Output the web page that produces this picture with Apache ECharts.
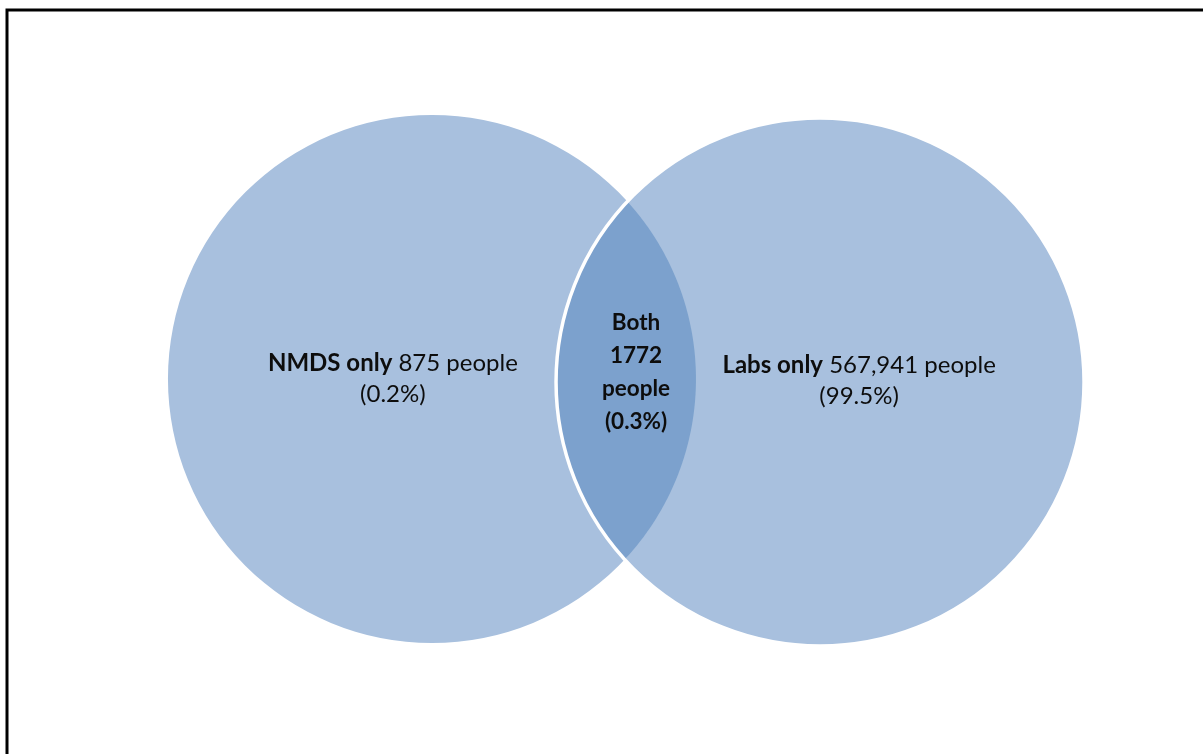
<!DOCTYPE html>
<html>
<head>
<meta charset="utf-8">
<title>NMDS and laboratory records overlap</title>
<script src="https://cdn.jsdelivr.net/npm/echarts@6/dist/echarts.min.js"></script>
<style>
  html, body { margin: 0; padding: 0; background: #ffffff; }
  #chart { width: 1203px; height: 754px; }
</style>
</head>
<body>
<div id="chart"></div>
<script>
// Regions of the Venn diagram: left-only, overlap, right-only
const regionNames = ['NMDS only', 'Both', 'Labs only'];
const peopleCounts = [875, 1772, 567941];
const countText = ['875', '1772', '567,941'];
const percentText = ['0.2%', '0.3%', '99.5%'];

// Schematic layout, in axis units where one circle radius = 1
const CIRCLE_R = 1;
const CENTER_OFFSET = 0.735;
const LEFT_CY = 0.0057;
const RIGHT_CY = -0.0057;
const LABEL_POS = [[-0.883, 0.008], [0.038, 0.03], [0.883, -0.002]];

const CIRCLE_FILL = '#a8c0de';
const LENS_FILL = '#7ca1cd';
const TEXT_COLOR = '#0d0d0d';
const FONT = 'Lato, "Open Sans", sans-serif';
const SIDE_FONT_SIZE = 24;
const LENS_FONT_SIZE = 22.5;

const chart = echarts.init(document.getElementById('chart'), null, { renderer: 'canvas' });

function lensPoints(c1, c2, r, steps) {
  // c1: left centre (px), c2: right centre (px), equal radius r
  const dx = c2[0] - c1[0], dy = c2[1] - c1[1];
  const d = Math.hypot(dx, dy);
  const a = d / 2;
  const h = Math.sqrt(Math.max(r * r - a * a, 0));
  const mx = c1[0] + dx / 2, my = c1[1] + dy / 2;
  const ux = dx / d, uy = dy / d;
  const pTop = [mx + h * uy, my - h * ux];
  const pBot = [mx - h * uy, my + h * ux];
  const pts = [];
  // right edge of the lens follows the left circle, from top to bottom
  const a1 = Math.atan2(pTop[1] - c1[1], pTop[0] - c1[0]);
  const a2 = Math.atan2(pBot[1] - c1[1], pBot[0] - c1[0]);
  for (let i = 0; i <= steps; i++) {
    const t = a1 + (a2 - a1) * i / steps;
    pts.push([c1[0] + r * Math.cos(t), c1[1] + r * Math.sin(t)]);
  }
  // left edge follows the right circle, from bottom back to top
  let b1 = Math.atan2(pBot[1] - c2[1], pBot[0] - c2[0]);
  let b2 = Math.atan2(pTop[1] - c2[1], pTop[0] - c2[0]);
  if (b1 < 0) b1 += 2 * Math.PI;
  if (b2 < 0) b2 += 2 * Math.PI;
  for (let i = 0; i <= steps; i++) {
    const t = b1 + (b2 - b1) * i / steps;
    pts.push([c2[0] + r * Math.cos(t), c2[1] + r * Math.sin(t)]);
  }
  return pts;
}

function labelText(i) {
  if (i === 1) {
    return '{b|' + regionNames[i] + '}\n{b|' + countText[i] + '}\n{b|people}\n{b|(' + percentText[i] + ')}';
  }
  return '{b|' + regionNames[i] + '}{r| ' + countText[i] + ' people}\n{r|(' + percentText[i] + ')}';
}

const regionData = regionNames.map((name, i) => ({ name: name, value: [i, peopleCounts[i]] }));

const option = {
  animation: false,
  backgroundColor: '#ffffff',
  grid: { left: 0, right: 0, top: 0, bottom: 0, containLabel: false },
  xAxis: { type: 'value', min: -626 / 264, max: 577 / 264, show: false },
  yAxis: { type: 'value', min: -(754 - 380.5) / 264, max: 380.5 / 264, show: false },
  graphic: [{
    type: 'rect',
    z: 100,
    shape: { x: 7, y: 10, width: 1400, height: 1000 },
    style: { fill: 'none', stroke: '#000000', lineWidth: 3 },
    silent: true
  }],
  series: [{
    type: 'custom',
    coordinateSystem: 'cartesian2d',
    data: regionData,
    renderItem: function (params, api) {
      const i = api.value(0);
      const cL = api.coord([-CENTER_OFFSET, LEFT_CY]);
      const cR = api.coord([CENTER_OFFSET, RIGHT_CY]);
      const r = api.size([CIRCLE_R, CIRCLE_R])[0];
      const lp = api.coord(LABEL_POS[i]);
      const children = [];
      if (i === 0) {
        children.push({ type: 'circle', shape: { cx: cL[0], cy: cL[1], r: r }, style: { fill: CIRCLE_FILL } });
      } else if (i === 2) {
        children.push({ type: 'circle', shape: { cx: cR[0], cy: cR[1], r: r }, style: { fill: CIRCLE_FILL } });
      } else {
        children.push({ type: 'polygon', shape: { points: lensPoints(cL, cR, r, 120) }, style: { fill: LENS_FILL } });
        children.push({ type: 'circle', shape: { cx: cR[0], cy: cR[1], r: r }, style: { fill: 'none', stroke: '#ffffff', lineWidth: 3.5 } });
      }
      const fs = i === 1 ? LENS_FONT_SIZE : SIDE_FONT_SIZE;
      const lh = i === 1 ? 33 : 31;
      children.push({
        type: 'text',
        z2: 10,
        style: {
          x: lp[0], y: lp[1],
          text: labelText(i),
          align: 'center',
          verticalAlign: 'middle',
          rich: {
            b: { fontFamily: FONT, fontWeight: 'bold', fontSize: fs, lineHeight: lh, fill: TEXT_COLOR, color: TEXT_COLOR },
            r: { fontFamily: FONT, fontWeight: 'normal', fontSize: fs, lineHeight: lh, fill: TEXT_COLOR, color: TEXT_COLOR }
          }
        }
      });
      return { type: 'group', children: children };
    }
  }]
};

// draw order: left circle, right circle, then the overlap on top
option.series[0].data = [regionData[0], regionData[2], regionData[1]];

chart.setOption(option);
</script>
</body>
</html>
